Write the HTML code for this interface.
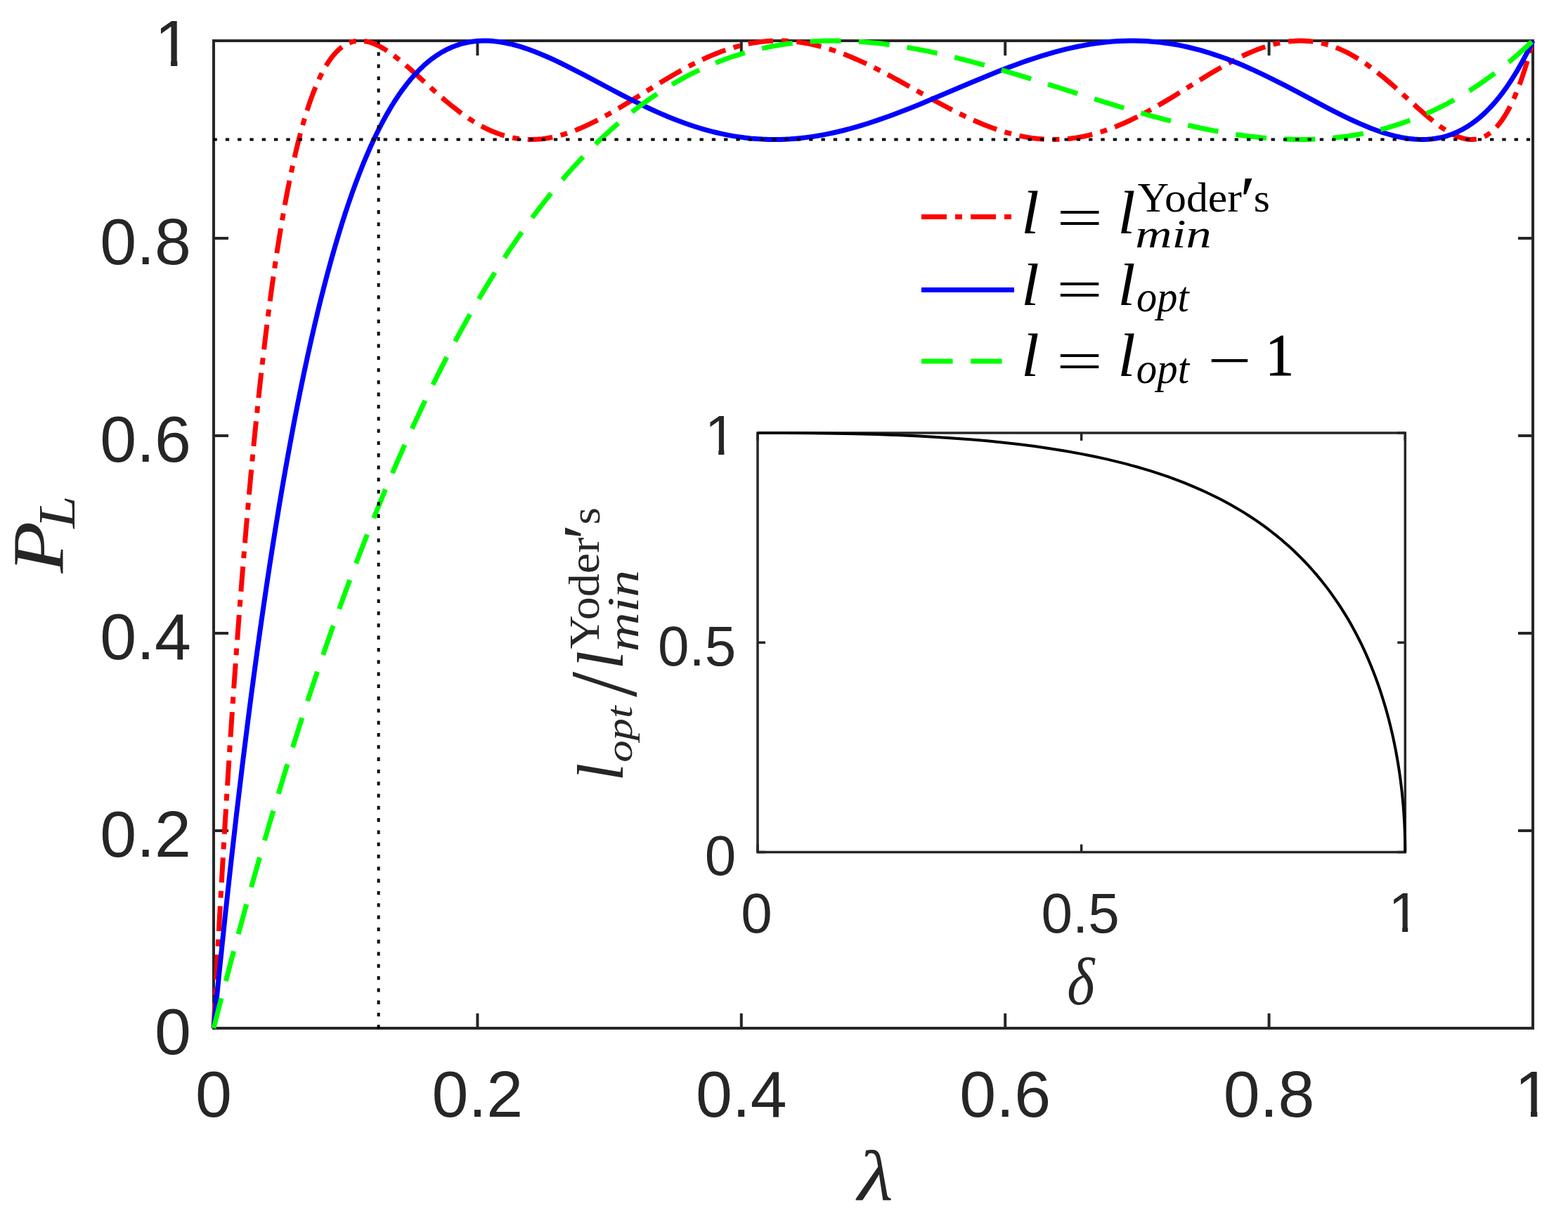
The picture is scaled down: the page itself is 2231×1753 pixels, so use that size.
<!DOCTYPE html>
<html><head><meta charset="utf-8"><title>plot</title><style>html,body{margin:0;padding:0;background:#fff;overflow:hidden}svg{display:block}</style></head><body>
<svg width="2231" height="1753" viewBox="0 0 2231 1753">
<rect x="0" y="0" width="2231" height="1753" fill="#fff"/>
<g stroke="#262626" stroke-width="4" fill="none" stroke-linecap="butt">
<path d="M304.0 1463.0H2181.0V58.0H304.0Z" stroke-linejoin="miter"/>
<path d="M304.00 1463.0V1442.0M304.00 58.0V79.0M304.0 1463.00H325.0M2181.0 1463.00H2160.0M679.40 1463.0V1442.0M679.40 58.0V79.0M304.0 1182.00H325.0M2181.0 1182.00H2160.0M1054.80 1463.0V1442.0M1054.80 58.0V79.0M304.0 901.00H325.0M2181.0 901.00H2160.0M1430.20 1463.0V1442.0M1430.20 58.0V79.0M304.0 620.00H325.0M2181.0 620.00H2160.0M1805.60 1463.0V1442.0M1805.60 58.0V79.0M304.0 339.00H325.0M2181.0 339.00H2160.0M2181.00 1463.0V1442.0M2181.00 58.0V79.0M304.0 58.00H325.0M2181.0 58.00H2160.0"/>
</g>
<path d="M304.00 1463.00L308.49 1377.24L313.02 1294.58L317.61 1214.83L322.25 1138.02L326.95 1064.29L331.70 993.34L336.52 925.32L341.40 860.10L346.33 797.92L351.30 738.74L356.37 682.00L361.53 627.75L366.79 576.04L372.04 527.73L377.48 481.11L380.21 459.06L382.93 437.82L385.65 417.38L388.47 397.04L391.28 377.51L394.10 358.76L396.91 340.78L399.82 322.99L402.73 305.97L405.64 289.70L408.55 274.17L411.55 258.89L414.56 244.34L417.56 230.52L420.66 216.98L423.75 204.17L426.85 192.05L430.04 180.27L433.23 169.19L436.52 158.47L439.80 148.44L443.09 139.07L446.46 130.10L449.84 121.77L453.22 114.07L456.69 106.79L460.17 100.12L463.73 93.87L467.39 88.08L471.05 82.88L474.81 78.15L478.56 73.98L480.44 72.10L482.41 70.28L484.38 68.59L486.35 67.05L489.26 65.01L492.26 63.21L495.27 61.69L498.36 60.42L501.46 59.43L504.65 58.69L507.84 58.22L511.13 58.01L514.41 58.06L517.79 58.37L521.26 58.94L524.74 59.76L528.40 60.87L532.06 62.22L535.81 63.84L539.66 65.72L542.85 67.44L546.13 69.35L549.51 71.46L552.89 73.69L556.46 76.18L560.12 78.85L567.91 84.92L575.32 91.07L583.58 98.23L592.31 106.05L618.49 129.84L626.84 137.22L634.54 143.82L643.36 151.09L651.71 157.61L659.79 163.55L667.57 168.90L672.17 171.88L676.68 174.65L681.18 177.29L685.69 179.77L690.19 182.11L694.60 184.25L699.01 186.25L703.43 188.10L707.84 189.79L712.15 191.31L716.56 192.70L720.88 193.92L725.20 195.00L729.61 195.94L734.02 196.74L738.43 197.39L743.03 197.90L747.63 198.26L752.23 198.46L756.92 198.49L761.61 198.37L766.31 198.10L771.09 197.65L775.88 197.05L780.66 196.30L785.54 195.38L790.42 194.31L795.40 193.07L800.47 191.65L805.53 190.08L810.70 188.35L815.95 186.43L821.11 184.42L826.37 182.24L831.72 179.90L837.16 177.38L842.70 174.71L848.42 171.83L860.44 165.43L872.26 158.74L885.40 150.97L899.01 142.66L937.68 118.69L949.78 111.39L960.76 104.98L973.34 97.93L985.26 91.62L996.61 86.00L1007.59 80.96L1014.26 78.11L1020.83 75.46L1027.30 73.02L1033.68 70.77L1040.07 68.70L1046.35 66.83L1052.64 65.13L1058.84 63.62L1065.03 62.29L1071.22 61.14L1077.42 60.17L1083.52 59.38L1089.62 58.77L1095.72 58.34L1101.82 58.08L1108.01 58.00L1113.93 58.09L1119.93 58.35L1125.84 58.77L1131.85 59.35L1137.86 60.10L1143.96 61.03L1150.06 62.12L1156.16 63.37L1162.35 64.80L1168.55 66.39L1174.83 68.16L1181.22 70.11L1187.69 72.24L1194.26 74.56L1200.92 77.06L1207.68 79.74L1218.76 84.43L1230.21 89.64L1242.31 95.50L1255.17 102.04L1266.34 107.95L1278.73 114.69L1319.55 137.44L1334.57 145.70L1349.21 153.51L1362.53 160.34L1376.14 166.93L1382.71 169.96L1389.09 172.80L1395.38 175.48L1401.48 177.96L1407.49 180.30L1413.49 182.51L1419.22 184.51L1424.85 186.36L1430.48 188.09L1436.02 189.67L1441.46 191.11L1446.91 192.43L1452.35 193.62L1457.70 194.67L1463.05 195.60L1468.40 196.41L1473.65 197.07L1478.91 197.61L1484.16 198.02L1489.33 198.31L1494.58 198.46L1499.74 198.50L1505.84 198.37L1511.85 198.08L1517.95 197.60L1524.05 196.95L1530.15 196.13L1536.25 195.13L1542.35 193.96L1548.45 192.62L1554.65 191.09L1560.84 189.38L1567.13 187.48L1573.42 185.42L1579.80 183.15L1586.18 180.72L1592.65 178.09L1599.32 175.22L1610.20 170.20L1621.56 164.55L1633.39 158.27L1645.87 151.26L1656.75 144.89L1668.77 137.65L1707.06 113.91L1720.38 105.77L1733.24 98.15L1744.88 91.55L1756.61 85.26L1767.59 79.79L1772.94 77.29L1778.10 74.99L1783.17 72.85L1788.24 70.83L1793.21 68.96L1798.09 67.26L1802.88 65.71L1807.66 64.29L1812.36 63.02L1816.96 61.91L1821.55 60.93L1826.15 60.09L1830.66 59.40L1835.16 58.84L1839.57 58.43L1843.98 58.15L1848.40 58.02L1852.71 58.02L1857.12 58.16L1861.44 58.45L1865.76 58.87L1869.98 59.42L1874.20 60.11L1878.43 60.94L1882.74 61.92L1886.97 63.03L1891.19 64.28L1895.41 65.67L1899.64 67.19L1903.86 68.85L1908.08 70.65L1912.40 72.64L1916.62 74.71L1920.94 76.97L1925.26 79.36L1929.67 81.95L1933.99 84.61L1938.40 87.46L1942.81 90.44L1947.31 93.60L1956.51 100.45L1966.18 108.14L1975.00 115.53L1984.67 123.96L1994.05 132.39L2016.48 152.80L2028.12 163.09L2034.22 168.26L2039.94 172.92L2045.29 177.07L2050.45 180.84L2056.74 185.09L2062.75 188.73L2065.66 190.33L2068.47 191.76L2071.20 193.04L2073.92 194.19L2076.64 195.23L2079.27 196.11L2081.89 196.86L2084.43 197.46L2086.96 197.93L2089.40 198.25L2091.84 198.44L2094.28 198.50L2097.57 198.35L2100.85 197.93L2104.04 197.25L2107.14 196.32L2110.24 195.11L2113.24 193.66L2116.24 191.92L2119.15 189.95L2122.06 187.69L2124.97 185.13L2127.79 182.35L2130.60 179.26L2133.42 175.85L2136.14 172.24L2138.86 168.31L2141.49 164.20L2144.12 159.78L2146.74 155.03L2149.37 149.94L2151.91 144.70L2154.44 139.13L2156.97 133.21L2159.51 126.93L2161.95 120.55L2164.39 113.82L2166.83 106.73L2169.27 99.27L2171.61 91.75L2173.96 83.87L2176.31 75.62L2181.00 58.00" fill="none" stroke="#f00" stroke-width="7" stroke-dasharray="35.58 11.86 9.88 11.86" stroke-dashoffset="0" stroke-linejoin="round"/>
<path d="M304.00 1463.00L312.01 1383.11L320.09 1305.82L328.24 1231.12L336.47 1159.02L344.82 1089.12L353.18 1022.42L357.40 989.88L361.72 957.43L365.94 926.46L370.26 895.58L374.58 865.48L378.89 836.15L383.21 807.57L387.62 779.13L392.03 751.46L396.44 724.53L400.95 697.78L405.45 671.79L409.96 646.54L414.56 621.51L419.15 597.22L423.75 573.66L428.35 550.82L433.04 528.24L437.74 506.37L442.43 485.21L447.12 464.73L451.91 444.54L456.69 425.04L461.57 405.85L466.45 387.35L471.33 369.51L476.31 352.02L481.28 335.19L486.26 319.01L491.32 303.18L496.39 288.00L501.55 273.19L506.72 259.01L511.97 245.22L517.23 232.06L522.58 219.30L527.93 207.16L533.28 195.62L538.72 184.48L544.26 173.75L549.79 163.62L555.42 153.91L561.06 144.78L566.78 136.07L572.60 127.80L578.42 120.09L584.33 112.81L590.34 105.97L596.44 99.58L602.54 93.73L608.73 88.32L611.83 85.81L615.02 83.35L621.12 79.02L627.31 75.09L630.41 73.30L633.60 71.57L636.79 69.96L639.98 68.46L643.17 67.08L646.46 65.76L649.74 64.56L653.03 63.47L656.31 62.49L659.69 61.58L663.07 60.79L666.45 60.10L669.92 59.50L673.39 59.00L676.87 58.61L680.43 58.31L687.56 58.01L694.89 58.11L702.39 58.61L710.00 59.50L717.78 60.78L725.86 62.47L732.33 64.09L738.99 65.96L745.85 68.10L752.88 70.51L760.11 73.18L767.62 76.16L775.41 79.43L783.48 83.00L790.71 86.34L798.31 89.97L814.92 98.26L832.00 107.13L867.10 125.77L882.40 133.79L898.45 142.00L913.09 149.21L921.53 153.23L929.79 157.04L937.77 160.60L945.65 164.00L953.35 167.19L960.95 170.22L968.36 173.04L975.78 175.73L984.51 178.72L993.14 181.49L1001.68 184.04L1010.13 186.37L1018.57 188.49L1026.93 190.40L1035.28 192.11L1043.54 193.61L1051.89 194.91L1060.15 196.01L1068.41 196.90L1076.67 197.60L1084.93 198.10L1093.28 198.40L1101.63 198.50L1109.98 198.40L1117.30 198.15L1124.62 197.76L1132.04 197.20L1139.45 196.50L1146.96 195.64L1154.47 194.63L1162.07 193.47L1169.77 192.14L1177.56 190.65L1185.35 189.02L1193.23 187.23L1201.21 185.27L1209.28 183.16L1217.54 180.86L1225.89 178.40L1234.43 175.76L1248.41 171.16L1263.05 166.02L1278.44 160.30L1294.77 153.94L1309.13 148.14L1324.99 141.57L1378.11 119.05L1398.10 110.69L1418.00 102.61L1436.02 95.61L1445.78 91.97L1455.16 88.58L1464.27 85.42L1473.18 82.45L1481.91 79.66L1490.45 77.07L1498.80 74.67L1507.06 72.43L1515.89 70.19L1524.61 68.14L1533.25 66.28L1541.79 64.61L1550.23 63.13L1558.59 61.85L1566.85 60.75L1575.10 59.83L1583.27 59.10L1591.43 58.56L1599.51 58.20L1607.58 58.02L1615.55 58.03L1623.53 58.22L1631.51 58.59L1639.49 59.15L1645.68 59.71L1651.78 60.37L1657.97 61.16L1664.17 62.06L1670.36 63.06L1676.56 64.18L1682.75 65.41L1689.04 66.77L1695.23 68.22L1701.52 69.80L1707.81 71.49L1714.19 73.32L1720.57 75.25L1726.95 77.30L1739.90 81.76L1746.85 84.32L1753.79 87.00L1760.83 89.83L1768.06 92.84L1782.89 99.36L1798.37 106.59L1813.01 113.78L1828.97 121.91L1844.74 130.16L1883.68 150.82L1894.66 156.53L1904.52 161.54L1915.69 167.05L1926.10 171.97L1935.96 176.40L1945.25 180.32L1951.07 182.65L1956.70 184.78L1962.24 186.76L1967.68 188.60L1973.03 190.27L1978.19 191.76L1983.26 193.11L1988.23 194.29L1993.11 195.33L1997.99 196.24L2002.78 196.98L2007.47 197.58L2012.07 198.03L2016.67 198.33L2021.17 198.48L2025.68 198.48L2031.40 198.26L2037.13 197.78L2042.76 197.04L2048.30 196.04L2053.74 194.79L2059.09 193.28L2064.34 191.52L2069.60 189.48L2074.76 187.19L2079.92 184.60L2084.99 181.77L2089.97 178.69L2094.94 175.31L2099.82 171.68L2104.70 167.75L2109.49 163.58L2114.27 159.10L2118.97 154.38L2123.66 149.34L2128.35 143.97L2132.95 138.37L2137.45 132.56L2141.96 126.42L2146.46 119.94L2150.87 113.26L2155.29 106.23L2159.70 98.85L2164.01 91.28L2168.33 83.36L2172.55 75.26L2176.78 66.81L2181.00 58.00" fill="none" stroke="#00f" stroke-width="7" stroke-linejoin="round"/>
<path d="M304.00 1463.00L312.59 1429.47L321.19 1396.38L329.82 1363.73L338.46 1331.52L347.08 1299.92L355.81 1268.42L364.53 1237.44L373.26 1206.96L381.99 1176.98L390.81 1147.19L399.63 1117.90L408.46 1089.12L417.28 1060.84L426.19 1032.75L435.11 1005.17L444.02 978.09L452.94 951.50L461.95 925.12L470.96 899.24L479.97 873.85L488.98 848.95L498.08 824.27L507.19 800.09L516.29 776.38L525.39 753.16L534.59 730.18L543.79 707.68L553.08 685.44L562.37 663.67L571.66 642.38L580.95 621.56L590.34 601.01L599.72 580.93L609.11 561.31L618.59 541.97L628.06 523.09L637.54 504.68L647.12 486.54L656.69 468.87L666.35 451.49L676.02 434.56L685.69 418.09L695.45 401.92L705.21 386.19L714.97 370.92L724.82 355.94L734.68 341.41L744.63 327.19L754.57 313.41L764.62 299.94L774.66 286.91L784.79 274.19L794.93 261.91L805.07 250.06L815.29 238.53L825.62 227.32L835.94 216.54L846.36 206.09L856.78 196.05L867.29 186.35L877.89 176.98L888.50 168.02L899.20 159.40L909.90 151.19L918.44 144.93L927.07 138.85L935.70 133.02L944.43 127.39L953.16 122.01L961.98 116.82L970.80 111.89L979.63 107.20L988.54 102.70L997.46 98.45L1006.47 94.39L1015.57 90.54L1024.67 86.93L1033.87 83.52L1043.16 80.31L1052.45 77.34L1061.84 74.58L1071.22 72.05L1080.70 69.72L1090.28 67.60L1099.94 65.69L1109.61 64.00L1119.37 62.52L1129.22 61.25L1139.17 60.19L1149.21 59.34L1159.35 58.69L1169.58 58.26L1179.90 58.03L1190.32 58.02L1200.83 58.21L1211.53 58.61L1220.16 59.09L1228.80 59.69L1237.62 60.43L1246.44 61.30L1255.36 62.30L1264.46 63.44L1273.66 64.73L1282.95 66.14L1292.33 67.69L1301.81 69.37L1311.48 71.20L1321.33 73.18L1331.38 75.31L1341.51 77.57L1351.84 79.97L1362.44 82.55L1380.08 87.07L1398.48 92.03L1417.81 97.51L1438.55 103.61L1456.85 109.17L1477.22 115.49L1545.73 137.17L1571.82 145.32L1597.91 153.26L1621.37 160.14L1634.23 163.77L1646.62 167.17L1658.63 170.35L1670.36 173.35L1681.81 176.16L1692.98 178.77L1703.96 181.22L1714.66 183.49L1726.58 185.85L1738.22 188.00L1749.67 189.94L1760.93 191.68L1772.00 193.22L1782.98 194.57L1793.77 195.71L1804.38 196.65L1814.89 197.41L1825.31 197.96L1835.63 198.32L1845.77 198.49L1855.90 198.46L1865.85 198.23L1875.71 197.81L1885.56 197.19L1895.79 196.33L1905.93 195.25L1915.97 193.96L1926.01 192.43L1935.86 190.70L1945.72 188.73L1955.48 186.55L1965.14 184.15L1974.72 181.54L1984.29 178.68L1993.77 175.61L2003.25 172.29L2012.63 168.76L2021.92 165.01L2031.12 161.05L2040.32 156.85L2049.42 152.43L2058.53 147.76L2067.54 142.88L2076.54 137.75L2085.46 132.41L2094.38 126.81L2103.20 121.01L2112.02 114.94L2120.75 108.68L2129.48 102.15L2138.20 95.35L2146.84 88.36L2155.47 81.10L2164.01 73.64L2172.55 65.91L2181.00 58.00" fill="none" stroke="#0f0" stroke-width="7" stroke-dasharray="44.09 25.11" stroke-dashoffset="0" stroke-linejoin="round"/>
<path d="M303.5 198.50H2181.0" stroke="#000" stroke-width="4" stroke-dasharray="5.3 12" fill="none"/>
<path d="M538.62 1463.5V58.0" stroke="#000" stroke-width="4" stroke-dasharray="5.3 12" fill="none"/>
<path d="M1311 308.4H1443" stroke="#f00" stroke-width="7" stroke-dasharray="36 12 10 12" fill="none"/>
<path d="M1311 412.4H1443" stroke="#00f" stroke-width="7" fill="none"/>
<path d="M1311 513.9H1443" stroke="#0f0" stroke-width="7" stroke-dasharray="44.6 25.4" fill="none"/>
<rect x="1078.0" y="616.0" width="921.3" height="596.4000000000001" fill="#fff"/>
<g stroke="#262626" stroke-width="3.5" fill="none"><path d="M1078.0 1212.4H1999.3V616.0H1078.0Z"/><path d="M1078.00 1212.4V1201.4M1078.00 616.0V627.0M1078.0 1212.40H1089.0M1999.3 1212.40H1988.3M1538.65 1212.4V1201.4M1538.65 616.0V627.0M1078.0 914.20H1089.0M1999.3 914.20H1988.3M1999.30 1212.4V1201.4M1999.30 616.0V627.0M1078.0 616.00H1089.0M1999.3 616.00H1988.3"/></g>
<path d="M1078.00 616.00L1117.52 616.07L1152.53 616.30L1185.38 616.72L1216.47 617.31L1246.41 618.11L1275.11 619.11L1302.66 620.31L1329.19 621.72L1355.13 623.38L1380.14 625.25L1404.33 627.35L1427.77 629.69L1450.48 632.27L1472.46 635.09L1493.74 638.15L1514.42 641.47L1534.78 645.10L1554.54 648.99L1573.71 653.16L1592.32 657.60L1601.39 659.92L1610.37 662.32L1619.22 664.79L1627.92 667.33L1636.49 669.94L1644.97 672.64L1653.31 675.40L1661.51 678.23L1669.61 681.15L1677.58 684.13L1685.46 687.21L1693.20 690.34L1700.85 693.57L1708.35 696.86L1715.77 700.24L1723.05 703.69L1730.23 707.22L1737.33 710.84L1744.33 714.55L1751.19 718.32L1757.97 722.18L1764.65 726.13L1771.23 730.17L1777.68 734.27L1784.36 738.68L1790.90 743.16L1797.35 747.74L1803.71 752.43L1809.97 757.23L1816.10 762.10L1822.13 767.07L1828.08 772.15L1833.93 777.33L1839.64 782.59L1845.26 787.95L1850.79 793.41L1856.22 798.99L1861.57 804.68L1866.82 810.48L1871.93 816.33L1877.00 822.35L1881.93 828.42L1886.76 834.61L1891.51 840.90L1896.16 847.31L1900.67 853.77L1905.14 860.40L1909.47 867.07L1913.71 873.86L1917.88 880.80L1921.96 887.85L1925.92 894.98L1929.79 902.22L1933.52 909.49L1937.20 916.96L1940.75 924.45L1944.25 932.17L1947.66 940.01L1950.96 947.93L1954.16 955.95L1957.24 964.06L1960.24 972.30L1963.14 980.66L1965.90 989.04L1968.57 997.54L1971.15 1006.19L1973.60 1014.81L1975.95 1023.58L1978.20 1032.49L1980.33 1041.39L1982.35 1050.41L1984.28 1059.60L1986.08 1068.75L1987.78 1078.08L1989.35 1087.33L1990.82 1096.78L1992.17 1106.16L1993.40 1115.69L1994.51 1125.12L1995.52 1134.74L1996.40 1144.33L1997.17 1154.04L1997.82 1163.75L1998.35 1173.46L1998.77 1183.17L1999.06 1192.92L1999.24 1202.66L1999.30 1212.40" fill="none" stroke="#000" stroke-width="4" stroke-linejoin="round"/>
<defs><clipPath id="c0" clipPathUnits="userSpaceOnUse"><rect x="200.11" y="0.20" width="91.89" height="84.83"/><rect x="243.07" y="0.20" width="9.25" height="98.30"/></clipPath><clipPath id="c1" clipPathUnits="userSpaceOnUse"><rect x="2135.06" y="1495.50" width="91.89" height="84.83"/><rect x="2178.02" y="1495.50" width="9.25" height="98.30"/></clipPath><clipPath id="c2" clipPathUnits="userSpaceOnUse"><rect x="982.71" y="567.40" width="84.49" height="72.52"/><rect x="1022.33" y="567.40" width="8.07" height="85.00"/></clipPath><clipPath id="c3" clipPathUnits="userSpaceOnUse"><rect x="1955.55" y="1246.00" width="84.49" height="72.52"/><rect x="1995.17" y="1246.00" width="8.07" height="85.00"/></clipPath></defs>
<g>
<text x="272.00" y="1500.00" font-family="'Liberation Sans', Arial, Helvetica, sans-serif" font-size="93.30" text-anchor="end" fill="#262626">0</text>
<text x="304.00" y="1588.80" font-family="'Liberation Sans', Arial, Helvetica, sans-serif" font-size="93.30" text-anchor="middle" fill="#262626">0</text>
<text x="272.00" y="1219.00" font-family="'Liberation Sans', Arial, Helvetica, sans-serif" font-size="93.30" text-anchor="end" fill="#262626">0.2</text>
<text x="679.40" y="1588.80" font-family="'Liberation Sans', Arial, Helvetica, sans-serif" font-size="93.30" text-anchor="middle" fill="#262626">0.2</text>
<text x="272.00" y="938.00" font-family="'Liberation Sans', Arial, Helvetica, sans-serif" font-size="93.30" text-anchor="end" fill="#262626">0.4</text>
<text x="1054.80" y="1588.80" font-family="'Liberation Sans', Arial, Helvetica, sans-serif" font-size="93.30" text-anchor="middle" fill="#262626">0.4</text>
<text x="272.00" y="657.00" font-family="'Liberation Sans', Arial, Helvetica, sans-serif" font-size="93.30" text-anchor="end" fill="#262626">0.6</text>
<text x="1430.20" y="1588.80" font-family="'Liberation Sans', Arial, Helvetica, sans-serif" font-size="93.30" text-anchor="middle" fill="#262626">0.6</text>
<text x="272.00" y="376.00" font-family="'Liberation Sans', Arial, Helvetica, sans-serif" font-size="93.30" text-anchor="end" fill="#262626">0.8</text>
<text x="1805.60" y="1588.80" font-family="'Liberation Sans', Arial, Helvetica, sans-serif" font-size="93.30" text-anchor="middle" fill="#262626">0.8</text>
<text x="272.00" y="93.50" font-family="'Liberation Sans', Arial, Helvetica, sans-serif" font-size="93.30" text-anchor="end" fill="#262626" clip-path="url(#c0)">1</text>
<text x="2181.00" y="1588.80" font-family="'Liberation Sans', Arial, Helvetica, sans-serif" font-size="93.30" text-anchor="middle" fill="#262626" clip-path="url(#c1)">1</text>
<text x="1047.20" y="1244.80" font-family="'Liberation Sans', Arial, Helvetica, sans-serif" font-size="80.00" text-anchor="end" fill="#262626">0</text>
<text x="1076.50" y="1327.00" font-family="'Liberation Sans', Arial, Helvetica, sans-serif" font-size="80.00" text-anchor="middle" fill="#262626">0</text>
<text x="1047.20" y="946.60" font-family="'Liberation Sans', Arial, Helvetica, sans-serif" font-size="80.00" text-anchor="end" fill="#262626">0.5</text>
<text x="1537.15" y="1327.00" font-family="'Liberation Sans', Arial, Helvetica, sans-serif" font-size="80.00" text-anchor="middle" fill="#262626">0.5</text>
<text x="1047.20" y="647.40" font-family="'Liberation Sans', Arial, Helvetica, sans-serif" font-size="80.00" text-anchor="end" fill="#262626" clip-path="url(#c2)">1</text>
<text x="1997.80" y="1326.00" font-family="'Liberation Sans', Arial, Helvetica, sans-serif" font-size="80.00" text-anchor="middle" fill="#262626" clip-path="url(#c3)">1</text>
<text x="500.00" y="500.00" font-family="'Liberation Serif', 'Times New Roman', serif" font-size="100.00" font-style="italic" fill="#262626" transform="matrix(1.1674 0 0 1.0157 636.51 1198.84)">λ</text>
<text x="500.00" y="500.00" font-family="'Liberation Serif', 'Times New Roman', serif" font-size="100.00" font-style="italic" fill="#262626" transform="matrix(0.8422 0 0 0.9451 1097.26 956.72)">δ</text>
<text x="500.00" y="500.00" font-family="'Liberation Serif', 'Times New Roman', serif" font-size="100.00" font-style="italic" fill="#262626" transform="matrix(0 -1.2102 1.0455 0 -432.77 1420.68)">P</text>
<text x="500.00" y="500.00" font-family="'Liberation Serif', 'Times New Roman', serif" font-size="100.00" font-style="italic" fill="#262626" transform="matrix(0 -0.8365 0.7354 0 -261.79 1170.03)">L</text>
<text x="500.00" y="500.00" font-family="'Liberation Serif', 'Times New Roman', serif" font-size="100.00" font-style="italic" fill="#262626" transform="matrix(0 -0.9190 0.9333 0 419.03 1570.92)">l</text>
<text x="500.00" y="500.00" font-family="'Liberation Serif', 'Times New Roman', serif" font-size="100.00" font-style="italic" fill="#262626" transform="matrix(0 -0.6283 0.5195 0 639.55 1398.96)">opt</text>
<text x="500.00" y="500.00" font-family="'Liberation Serif', 'Times New Roman', serif" font-size="100.00" fill="#262626" transform="matrix(0 -1.2964 1.3657 0 222.03 1639.91)">/</text>
<text x="500.00" y="500.00" font-family="'Liberation Serif', 'Times New Roman', serif" font-size="100.00" font-style="italic" fill="#262626" transform="matrix(0 -0.9524 0.9333 0 419.03 1428.65)">l</text>
<text x="500" y="500" font-family="'Liberation Serif', 'Times New Roman', serif" font-size="100" fill="#262626" transform="matrix(0.0000 -0.6626 0.6186 0.0000 543.20 1254.87)">Yoder<tspan x="735.31" y="523.34" font-size="154.25">′</tspan><tspan x="767.19" y="500.05" font-size="94.98">s</tspan></text>
<text x="500.00" y="500.00" font-family="'Liberation Serif', 'Times New Roman', serif" font-size="100.00" font-style="italic" fill="#262626" transform="matrix(0 -0.7746 0.6379 0 589.32 1314.42)">min</text>
<text x="500.00" y="500.00" font-family="'Liberation Serif', 'Times New Roman', serif" font-size="100.00" font-style="italic" fill="#000" transform="matrix(0.9238 0 0 0.8565 991.18 -96.16)">l</text>
<text x="500.00" y="500.00" font-family="'Liberation Serif', 'Times New Roman', serif" font-size="100.00" fill="#000" transform="matrix(1.1702 0 0 0.8040 918.04 -65.22)">=</text>
<text x="500.00" y="500.00" font-family="'Liberation Serif', 'Times New Roman', serif" font-size="100.00" font-style="italic" fill="#000" transform="matrix(0.9095 0 0 0.8580 1135.49 -96.89)">l</text>
<text x="500" y="500" font-family="'Liberation Serif', 'Times New Roman', serif" font-size="100" fill="#000" transform="matrix(0.6189 0.0000 0.0000 0.5843 1309.03 9.17)">Yoder<tspan x="735.66" y="527.34" font-size="164.02">′</tspan><tspan x="767.07" y="500.04" font-size="95.91">s</tspan></text>
<text x="500.00" y="500.00" font-family="'Liberation Serif', 'Times New Roman', serif" font-size="100.00" font-style="italic" fill="#000" transform="matrix(0.7246 0 0 0.5672 1252.88 68.85)">min</text>
<text x="500.00" y="500.00" font-family="'Liberation Serif', 'Times New Roman', serif" font-size="100.00" font-style="italic" fill="#000" transform="matrix(0.9238 0 0 0.8551 991.18 6.36)">l</text>
<text x="500.00" y="500.00" font-family="'Liberation Serif', 'Times New Roman', serif" font-size="100.00" fill="#000" transform="matrix(1.1702 0 0 0.8120 918.04 33.25)">=</text>
<text x="500.00" y="500.00" font-family="'Liberation Serif', 'Times New Roman', serif" font-size="100.00" font-style="italic" fill="#000" transform="matrix(0.9095 0 0 0.8551 1135.59 6.36)">l</text>
<text x="500.00" y="500.00" font-family="'Liberation Serif', 'Times New Roman', serif" font-size="100.00" font-style="italic" fill="#000" transform="matrix(0.5835 0 0 0.6065 1325.32 139.72)">opt</text>
<text x="500.00" y="500.00" font-family="'Liberation Serif', 'Times New Roman', serif" font-size="100.00" font-style="italic" fill="#000" transform="matrix(0.9238 0 0 0.8580 991.18 106.31)">l</text>
<text x="500.00" y="500.00" font-family="'Liberation Serif', 'Times New Roman', serif" font-size="100.00" fill="#000" transform="matrix(1.1702 0 0 0.8120 918.04 134.65)">=</text>
<text x="500.00" y="500.00" font-family="'Liberation Serif', 'Times New Roman', serif" font-size="100.00" font-style="italic" fill="#000" transform="matrix(0.9190 0 0 0.8580 1130.68 106.31)">l</text>
<text x="500.00" y="500.00" font-family="'Liberation Serif', 'Times New Roman', serif" font-size="100.00" font-style="italic" fill="#000" transform="matrix(0.5882 0 0 0.6104 1322.74 239.89)">opt</text>
<text x="500.00" y="500.00" font-family="'Liberation Serif', 'Times New Roman', serif" font-size="100.00" fill="#000" transform="matrix(1.1064 0 0 0.9000 1165.28 93.30)">−</text>
<text x="500.00" y="500.00" font-family="'Liberation Serif', 'Times New Roman', serif" font-size="100.00" fill="#000" transform="matrix(0.8114 0 0 0.8379 1394.68 115.46)" stroke="#000" stroke-width="1.455" stroke-linejoin="round">1</text>
</g>
</svg>
</body></html>
